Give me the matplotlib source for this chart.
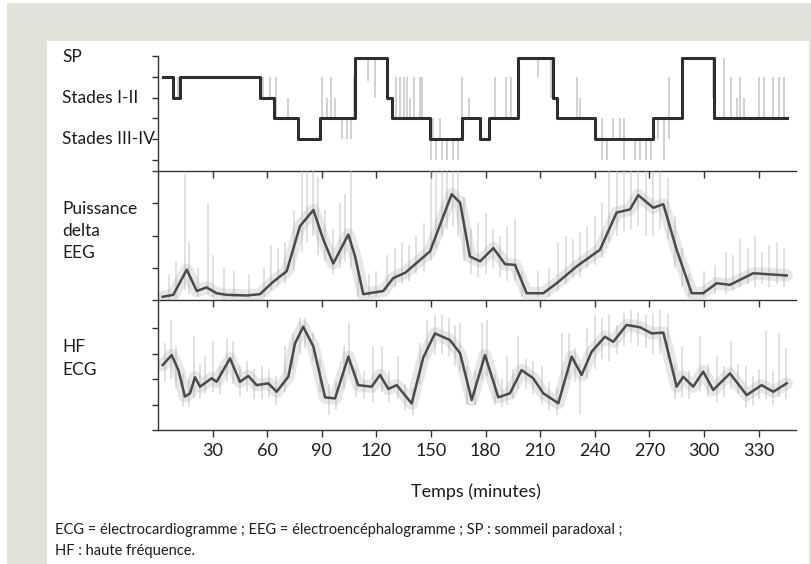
import matplotlib
matplotlib.use("Agg")
import matplotlib.pyplot as plt
from matplotlib.patches import Rectangle

plt.rcParams['font.family'] = ['Lato', 'DejaVu Sans']

# Hypnogramme : instants de changement (min) et niveau du stade
hyp_t = [2.6, 8.4, 12, 56, 64, 77, 89, 108.5, 126, 128.5, 149.5, 167, 177, 182,
         198, 217, 219, 240, 272, 288, 305.5, 345.5]
hyp_niv = [4, 3, 4, 3, 2, 1, 2, 4.9, 3, 2, 1, 2, 1, 2, 4.9, 3, 2, 1, 2, 4.9, 2]

# excursions breves (traits gris)
exc_t = [9, 11, 57.6, 61.3, 65, 71.6, 90, 93, 95, 97, 101, 104, 106, 107.6,
         115.5, 119, 126.5, 131, 133, 135, 137, 138.5, 140.5, 144, 145,
         150, 151, 153, 155, 156, 159, 162, 165, 167, 171, 185, 191, 194,
         209, 216, 230, 232, 240, 244, 247, 250, 254, 256, 262, 265, 268, 271,
         275, 278, 281, 305, 311, 315, 318, 320, 322, 330, 333, 338, 341, 344]
exc_bas = [3, 3, 3, 3, 2, 2, 2, 2, 2, 2, 1, 1, 1, 2,
           3.8, 3, 3, 2, 2, 2, 2, 2, 2, 2, 2,
           0, 1, 0, 1, 0, 0, 0, 0, 2, 2, 2, 2, 2,
           4, 3, 2, 2, 1, 0, 0, 1, 1, 0, 0, 0, 0, 0,
           1, 0, 1, 3, 2, 2, 2, 2, 2, 2, 2, 2, 2, 2]
exc_haut = [4, 4, 4, 4, 4, 3, 4, 3, 4, 3, 2, 2, 2, 4,
            4.9, 4.9, 4, 4, 4, 4, 4, 3, 4, 4, 4,
            1, 2, 1, 2, 1, 1, 1, 1, 4, 3, 4, 4, 4,
            4.9, 4.9, 4, 3, 2, 2, 1, 2, 2, 2, 1, 1, 1, 1,
            2, 2, 4, 4.9, 4.9, 4, 3, 4, 3, 4, 4, 4, 4, 4]

# Puissance delta EEG (courbe lissee)
eeg_t = [2.6, 8.4, 15.8, 21.3, 26.7, 32.2, 37.7, 48.7, 56, 63.4, 70.7, 78, 85.4,
         90.8, 96.3, 104.6, 108.3, 112.8, 123.8, 129.3, 136, 149.5, 156.8,
         161.4, 166, 171.4, 177, 184.3, 190.7, 196.2, 202.6, 211.7, 219.1, 230,
         242.9, 252, 259.4, 263.9, 272.2, 277.7, 285, 293.3, 299.6, 307, 314.3,
         327.1, 345.5]
eeg_val = [0.10, 0.16, 0.94, 0.28, 0.39, 0.21, 0.16, 0.14, 0.18, 0.57, 0.89, 2.29,
           2.79, 1.88, 1.13, 2.03, 1.35, 0.18, 0.28, 0.68, 0.85, 1.51, 2.6,
           3.28, 3.02, 1.35, 1.2, 1.61, 1.11, 1.09, 0.21, 0.21, 0.52, 1.04,
           1.56, 2.71, 2.81, 3.25, 2.86, 2.97, 1.56, 0.21, 0.21, 0.52, 0.47,
           0.83, 0.76]
eeg_brut_t = [6, 10, 15, 17, 22, 27.5, 30, 36, 42, 50, 58, 62, 66, 70, 75, 79, 82,
              85, 88, 92, 96, 100, 103, 106, 110, 116, 120, 126, 130, 134, 138,
              142, 146, 150, 153, 156, 159, 162, 165, 168, 172, 176, 180, 184,
              188, 192, 196, 200, 209, 215, 220, 224, 228, 232, 236, 240, 244,
              248, 252, 256, 260, 264, 268, 272, 276, 280, 284, 288, 292, 300,
              306, 312, 316, 320, 324, 328, 332, 336, 340, 344]
eeg_brut_bas = [0.0, 0.05, 0.3, 0.2, 0.1, 0.2, 0.1, 0.05, 0.05, 0.05, 0.1, 0.3,
                0.4, 0.5, 0.9, 1.5, 1.8, 2.0, 1.4, 1.2, 0.8, 1.0, 1.2, 1.0, 0.1,
                0.1, 0.1, 0.3, 0.4, 0.5, 0.6, 0.8, 0.9, 1.2, 1.6, 2.0, 2.2, 2.3,
                2.0, 1.2, 0.8, 0.7, 0.8, 1.0, 0.7, 0.6, 0.6, 0.1, 0.1, 0.1, 0.3,
                0.5, 0.7, 0.7, 1.0, 1.1, 1.3, 1.8, 2.0, 2.1, 2.2, 2.3, 2.0, 2.0,
                2.2, 1.9, 1.0, 0.4, 0.1, 0.1, 0.2, 0.2, 0.3, 0.4, 0.5, 0.4, 0.5,
                0.4, 0.5, 0.4]
eeg_brut_haut = [0.8, 1.2, 3.9, 1.8, 1.0, 3.0, 1.4, 1.0, 0.9, 0.8, 1.0, 1.7,
                 1.6, 1.8, 2.8, 4.0, 4.0, 4.0, 3.8, 2.8, 2.2, 3.0, 3.3, 4.0, 1.0,
                 0.8, 0.9, 1.4, 1.6, 1.8, 1.7, 2.0, 2.4, 4.0, 4.0, 4.0, 4.0, 4.0,
                 4.0, 3.2, 2.2, 2.4, 2.7, 2.2, 2.0, 2.3, 2.5, 0.9, 0.9, 1.0, 1.8,
                 2.0, 1.9, 2.1, 2.3, 2.6, 3.0, 4.0, 4.0, 4.0, 4.0, 4.0, 4.0, 4.0,
                 4.0, 3.8, 2.6, 1.6, 0.8, 0.9, 1.1, 1.5, 1.4, 1.9, 1.6, 2.0, 1.5,
                 1.7, 1.8, 1.6]

# HF ECG (courbe lissee)
ecg_t = [2.6, 7.5, 11.2, 14.8, 17.6, 20.3, 23.1, 29.5, 32.2, 39.6, 45, 49.6,
         54.2, 60.6, 65.2, 71.6, 75.3, 79.8, 85.4, 91.8, 97.3, 104.6, 110,
         117.4, 122, 126.6, 131.2, 139.4, 145.8, 152.2, 160.4, 166, 172.4,
         179.7, 187, 193.4, 199.8, 206.2, 211.7, 220, 227.3, 232.8, 238.3,
         245.6, 250.2, 257.5, 264.9, 271.3, 277.7, 285, 288.6, 294.1, 299.6,
         305.1, 314.3, 323.5, 331.7, 338.1, 345.5]
ecg_val = [2.55, 2.94, 2.35, 1.31, 1.44, 2.07, 1.70, 2.03, 1.89, 2.81, 1.89, 2.12,
           1.76, 1.83, 1.50, 2.09, 3.40, 4.05, 3.27, 1.28, 1.24, 2.88, 1.76,
           1.70, 2.16, 1.61, 1.76, 1.04, 2.85, 3.79, 3.53, 3.01, 1.18,
           2.94, 1.28, 1.44, 2.35, 2.03, 1.44, 1.05, 2.88, 2.16, 3.07,
           3.66, 3.46, 4.12, 4.03, 3.79, 3.82, 1.70, 2.09, 1.70, 2.29,
           1.57, 2.22, 1.37, 1.76, 1.50, 1.83]
ecg_brut_t = [4, 7, 10, 14, 17, 20, 23, 26, 30, 34, 38, 41, 45, 49, 53, 57, 61, 65,
              70, 74, 78, 81, 85, 89, 94, 98, 102, 105, 109, 113, 118, 123, 127,
              132, 136, 140, 144, 148, 152, 156, 160, 163, 166, 170, 174, 178,
              181, 185, 189, 192, 195, 198, 202, 206, 211, 215, 219, 222, 226,
              229, 232, 236, 240, 244, 248, 252, 256, 260, 264, 268, 272, 276,
              280, 284, 288, 292, 298, 302, 307, 311, 315, 319, 323, 327, 330,
              334, 338, 341, 345]
ecg_brut_bas = [1.9, 2.0, 1.6, 0.9, 0.9, 1.3, 1.2, 1.4, 1.5, 1.4, 1.9, 1.8, 1.3,
                1.5, 1.2, 1.2, 1.3, 1.0, 1.5, 2.4, 3.0, 3.2, 2.7, 1.5, 0.6, 0.8,
                1.6, 2.2, 1.3, 1.2, 1.1, 1.5, 1.1, 1.2, 0.8, 0.6, 1.8, 2.8, 3.0,
                3.0, 2.9, 2.5, 2.3, 1.0, 1.0, 2.0, 2.1, 1.0, 0.9, 1.0, 1.2, 1.6,
                1.6, 1.4, 1.0, 0.8, 0.6, 1.5, 2.0, 1.9, 0.6, 2.0, 2.4, 2.8, 2.7,
                3.0, 3.3, 3.4, 3.3, 3.2, 3.0, 3.0, 2.8, 1.2, 1.3, 1.2, 1.5, 1.3,
                1.1, 1.3, 1.6, 1.4, 0.9, 1.0, 1.2, 1.2, 1.0, 1.3, 1.2]
ecg_brut_haut = [3.4, 4.3, 3.3, 2.2, 2.0, 3.7, 2.6, 2.9, 3.5, 2.5, 3.6, 3.5, 2.5,
                 2.7, 2.4, 2.5, 2.4, 2.1, 3.3, 3.8, 4.4, 4.4, 3.8, 2.8, 1.8, 1.9,
                 3.3, 4.2, 2.4, 2.3, 3.3, 3.3, 2.3, 2.9, 1.8, 1.6, 3.4, 4.3, 4.5,
                 4.5, 4.4, 4.1, 4.2, 2.5, 2.3, 4.2, 4.3, 2.2, 2.0, 2.9, 2.4, 3.7,
                 2.8, 2.7, 2.5, 1.9, 1.6, 3.8, 3.8, 3.2, 2.6, 4.0, 4.5, 4.4, 4.5,
                 4.1, 4.6, 4.7, 4.6, 4.5, 4.6, 4.7, 4.6, 2.6, 3.3, 2.3, 3.7, 2.6,
                 2.9, 2.5, 3.5, 2.6, 2.5, 2.1, 2.4, 3.9, 2.3, 3.8, 3.2]

xticks = [30, 60, 90, 120, 150, 180, 210, 240, 270, 300, 330]

W, H = 812, 564
fig = plt.figure(figsize=(W / 100, H / 100), dpi=100)
fig.patch.set_facecolor('white')
fig.add_artist(Rectangle((7 / W, 0), (W - 7) / W, (H - 3) / H, transform=fig.transFigure,
                         facecolor='#e1e2da', edgecolor='none', zorder=-10))
fig.add_artist(Rectangle((47 / W, 0), (809 - 47) / W, (H - 41) / H, transform=fig.transFigure,
                         facecolor='white', edgecolor='none', zorder=-9))


def fy(y):
    return 1 - y / H


x0 = 158 / W
larg = (796 - 158) / W
ax1 = fig.add_axes([x0, fy(171), larg, fy(56) - fy(171)])
ax2 = fig.add_axes([x0, fy(300), larg, fy(171) - fy(300)])
ax3 = fig.add_axes([x0, fy(430), larg, fy(300) - fy(430)])

trait = '#2e2e2e'
gris = '#b8b8b8'
encre = '#1c1c1c'

for ax in (ax1, ax2, ax3):
    ax.set_facecolor('none')
    ax.set_xlim(0, 350.6)
    for s in ('top', 'right'):
        ax.spines[s].set_visible(False)
    for s in ('left', 'bottom'):
        ax.spines[s].set_color('#333333')
        ax.spines[s].set_linewidth(1.0)
    ax.set_xticks(xticks)
    ax.tick_params(axis='both', direction='out', length=5, width=1.0, color='#333333')
    ax.tick_params(axis='y', labelleft=False, length=4)
    ax.tick_params(axis='x', labelbottom=False)

# panneau 1 : hypnogramme
ax1.set_ylim(-0.53, 5)
ax1.set_yticks([0, 1, 2, 3, 4, 5])
ax1.vlines(exc_t, exc_bas, exc_haut, color=gris, linewidth=1.3, alpha=0.7)
ax1.step(hyp_t, hyp_niv + [hyp_niv[-1]], where='post', color=trait, linewidth=2.2,
         clip_on=False)

# panneau 2 : puissance delta
ax2.set_ylim(0, 4)
ax2.set_yticks([0, 1, 2, 3, 4])
ax2.vlines(eeg_brut_t, eeg_brut_bas, eeg_brut_haut, color=gris, linewidth=1.2, alpha=0.5)
ax2.plot(eeg_t, eeg_val, color='#a0a0a0', linewidth=9, alpha=0.25, solid_capstyle='round')
ax2.plot(eeg_t, eeg_val, color='#4a4a4a', linewidth=1.8)

# panneau 3 : HF ECG
ax3.set_ylim(0, 5.1)
ax3.set_yticks([0, 1, 2, 3, 4])
ax3.vlines(ecg_brut_t, ecg_brut_bas, ecg_brut_haut, color=gris, linewidth=1.2, alpha=0.5)
ax3.plot(ecg_t, ecg_val, color='#a0a0a0', linewidth=9, alpha=0.25, solid_capstyle='round')
ax3.plot(ecg_t, ecg_val, color='#4a4a4a', linewidth=1.8)
ax3.tick_params(axis='x', labelbottom=True, labelsize=13, pad=4, labelcolor=encre)

# libelles
txt = dict(fontsize=12.5, color=encre, ha='left', va='center')
fig.text(62 / W, fy(57), 'SP', **txt)
fig.text(62 / W, fy(98), 'Stades I-II', **txt)
fig.text(62 / W, fy(139), 'Stades III-IV', **txt)
fig.text(62 / W, fy(231), 'Puissance\ndelta\nEEG', linespacing=1.5, **txt)
fig.text(62 / W, fy(358.5), 'HF\nECG', linespacing=1.5, **txt)
fig.text(476 / W, fy(492), 'Temps (minutes)', fontsize=13, color=encre,
         ha='center', va='center')
fig.text(55 / W, fy(530), 'ECG = électrocardiogramme ; EEG = électroencéphalogramme ; '
         'SP : sommeil paradoxal ;', fontsize=10.5, color=encre, ha='left', va='center')
fig.text(55 / W, fy(551), 'HF : haute fréquence.', fontsize=10.5, color=encre,
         ha='left', va='center')

fig.savefig('out.png', dpi=100)
